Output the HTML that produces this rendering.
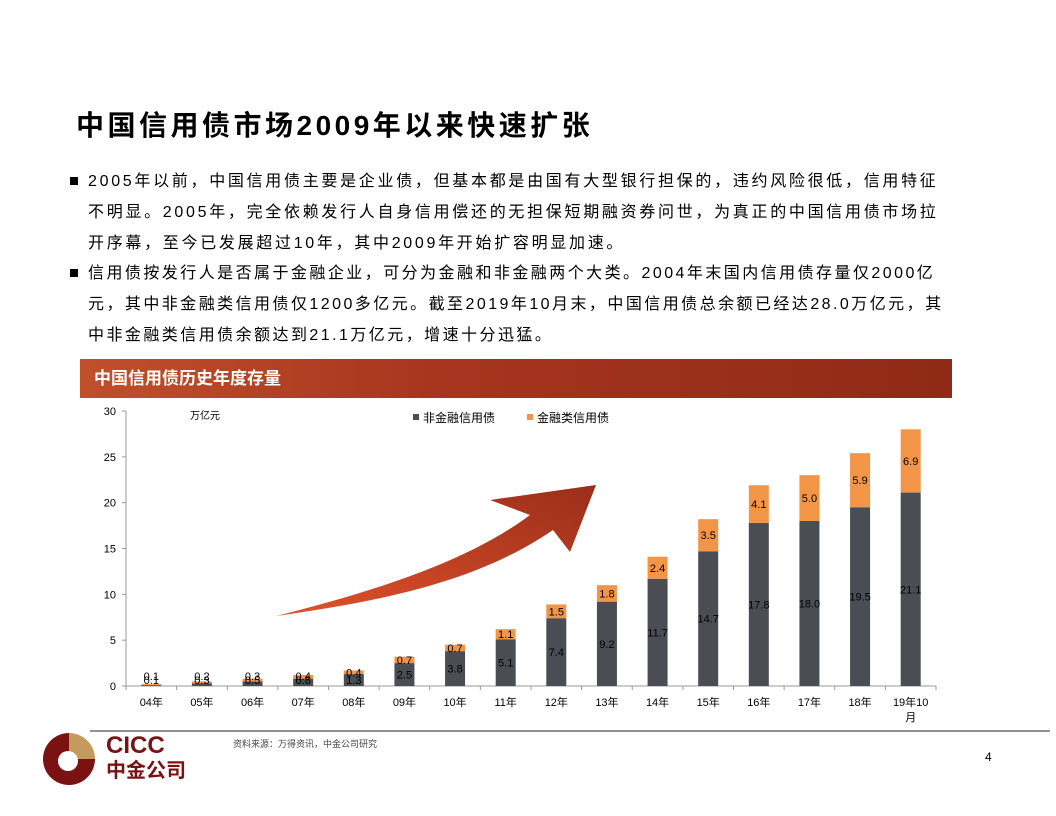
<!DOCTYPE html>
<html><head><meta charset="utf-8"><style>
body{margin:0;width:1056px;height:816px;background:#fff;position:relative;overflow:hidden;font-family:"Liberation Sans","Noto Sans CJK SC",sans-serif;}
.abs{position:absolute}
h1{position:absolute;left:76px;top:104px;margin:0;font-size:28px;font-weight:bold;color:#000;letter-spacing:3.5px;font-family:"Liberation Sans","Noto Sans CJK SC",sans-serif}
.p{position:absolute;left:70px;width:900px;font-size:16px;line-height:31px;color:#000;white-space:nowrap;letter-spacing:2.7px}
.p .b{position:absolute;left:0;top:11px;width:8px;height:8px;background:#000}
.p .t{margin-left:18px}
</style></head><body>
<h1>中国信用债市场2009年以来快速扩张</h1>
<div class="p" style="top:166px"><span class="b"></span><div class="t">2005年以前，中国信用债主要是企业债，但基本都是由国有大型银行担保的，违约风险很低，信用特征<br>不明显。2005年，完全依赖发行人自身信用偿还的无担保短期融资券问世，为真正的中国信用债市场拉<br>开序幕，至今已发展超过10年，其中2009年开始扩容明显加速。</div></div>
<div class="p" style="top:258px;letter-spacing:2.45px"><span class="b"></span><div class="t">信用债按发行人是否属于金融企业，可分为金融和非金融两个大类。2004年末国内信用债存量仅2000亿<br>元，其中非金融类信用债仅1200多亿元。截至2019年10月末，中国信用债总余额已经达28.0万亿元，其<br>中非金融类信用债余额达到21.1万亿元，增速十分迅猛。</div></div>
<div class="abs" style="left:80px;top:359px;width:872px;height:39px;background:linear-gradient(90deg,#c0502a,#a8351e 40%,#8e2a17);color:#fff;font-weight:bold;font-size:17px;line-height:39px;padding-left:14px;box-sizing:border-box">中国信用债历史年度存量</div>
<svg class="abs" style="left:0;top:0" width="1056" height="816" id="chart">
<defs><linearGradient id="ag" x1="0" y1="1" x2="1" y2="0"><stop offset="0" stop-color="#e0522a"/><stop offset="1" stop-color="#9a2e1a"/></linearGradient></defs>
<path d="M276,616 C380,590 470,560 530,515 L490,500 L596,485 L570,552 L553,530 C480,580 390,600 276,616 Z" fill="url(#ag)"/>
<line x1="90" y1="731" x2="1050" y2="731" stroke="#222" stroke-width="1"/>
</svg>
<div class="abs" style="left:233px;top:737px;font-size:9px;color:#444">资料来源：万得资讯，中金公司研究</div>
<div class="abs" style="left:985px;top:750px;font-size:12px">4</div>
<div class="abs" style="left:43px;top:733px;width:52px;height:52px;border-radius:50%;background:conic-gradient(#c49a5e 0 25%,#7a1212 25% 100%)"><div style="position:absolute;left:15px;top:18px;width:20px;height:20px;border-radius:50%;background:#fff"></div></div>
<div class="abs" style="left:106px;top:734px;color:#7a1212;font-weight:bold;font-size:24px;line-height:24px">CICC<br><span style="font-size:20px">中金公司</span></div>
<script>
const categories=["04年","05年","06年","07年","08年","09年","10年","11年","12年","13年","14年","15年","16年","17年","18年","19年10月"];
const nonFin=[0.1,0.3,0.5,0.8,1.3,2.5,3.8,5.1,7.4,9.2,11.7,14.7,17.8,18.0,19.5,21.1];
const fin=[0.1,0.2,0.3,0.4,0.4,0.7,0.7,1.1,1.5,1.8,2.4,3.5,4.1,5.0,5.9,6.9];
const yTicks=[0,5,10,15,20,25,30];
const svg=document.getElementById('chart');const NS='http://www.w3.org/2000/svg';
const X0=126,X1=936,Y0=686,Y30=411;
const y=v=>Y0-(v/30)*(Y0-Y30);
const bw=(X1-X0)/categories.length;
const xc=i=>X0+bw*(i+0.5);
function mk(t,a,txt){const e=document.createElementNS(NS,t);for(const k in a)e.setAttribute(k,a[k]);if(txt!==undefined)e.textContent=txt;svg.appendChild(e);return e;}
let e=mk('line',{x1:X0,y1:Y30,x2:X0,y2:Y0,stroke:'#999'});

e=mk('line',{x1:X0,y1:Y0,x2:X1,y2:Y0,stroke:'#999'});

yTicks.forEach(v=>{mk('line',{x1:X0-4,y1:y(v),x2:X0,y2:y(v),stroke:'#999'});
const t=mk('text',{x:X0-10,y:y(v)+4,'text-anchor':'end','font-size':11,fill:'#000'},v);
});
for(let i=0;i<=categories.length;i++)mk('line',{x1:X0+bw*i,y1:Y0,x2:X0+bw*i,y2:Y0+4,stroke:'#999'});
categories.forEach((c,i)=>{
 const cx=xc(i),w=20;
 let r=mk('rect',{x:cx-w/2,y:y(nonFin[i]),width:w,height:Y0-y(nonFin[i]),fill:'#4a4e54'});
 
 r=mk('rect',{x:cx-w/2,y:y(nonFin[i]+fin[i]),width:w,height:y(nonFin[i])-y(nonFin[i]+fin[i]),fill:'#f39546'});
 
 let t=mk('text',{x:cx,y:Math.min(y(nonFin[i]/2)+4,Y0-2),'text-anchor':'middle','font-size':11,fill:'#000'},nonFin[i].toFixed(1));
 
 t=mk('text',{x:cx,y:Math.min(y(nonFin[i]+fin[i]/2)+4,Y0-6),'text-anchor':'middle','font-size':11,fill:'#000'},fin[i].toFixed(1));
 
 if(c.length>3){
  t=mk('text',{x:cx,y:Y0+20,'text-anchor':'middle','font-size':11},c.slice(0,5));
  
  t=mk('text',{x:cx,y:Y0+35,'text-anchor':'middle','font-size':11},c.slice(5));
  
 } else {
  t=mk('text',{x:cx,y:Y0+20,'text-anchor':'middle','font-size':11},c);
  
 }
});
e=mk('text',{x:190,y:419,'font-size':10},'万亿元');

e=mk('rect',{x:413,y:414,width:6,height:6,fill:'#4a4e54'});

e=mk('text',{x:423,y:422,'font-size':12},'非金融信用债');

e=mk('rect',{x:527,y:414,width:6,height:6,fill:'#f39546'});

e=mk('text',{x:537,y:422,'font-size':12},'金融类信用债');

</script>
</body></html>
